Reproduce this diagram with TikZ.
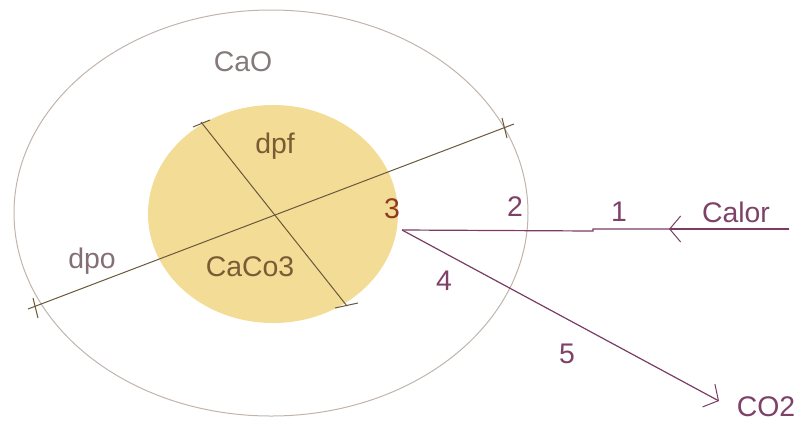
\documentclass[tikz,border=0pt]{standalone}
\usepackage{fontspec}
\setmainfont{Liberation Sans}
\usetikzlibrary{arrows.meta,calc}
\definecolor{outerc}{HTML}{C0B4AC}
\definecolor{fillc}{HTML}{F3DC96}
\definecolor{dline}{HTML}{6A583A}
\definecolor{mline}{HTML}{7A3C64}
\definecolor{txtgray}{HTML}{857A7A}
\definecolor{txtbrown}{HTML}{7A5C34}
\definecolor{txtred}{HTML}{8C3A24}
\definecolor{txtmag}{HTML}{7E4268}
\tikzset{
  lbl/.style={inner sep=0pt, font=\fontsize{28.5}{30}\selectfont},
  dimline/.style={draw=dline, line width=1bp},
  tickmark/.style={draw=dline, line width=1bp},
  flow/.style={draw=mline, line width=1.2bp},
  barb/.style={-{Straight Barb[length=11bp,width=26bp,line width=1bp]}},
}
\begin{document}
\begin{tikzpicture}[x=1bp,y=-1bp]
\useasboundingbox (0,0) rectangle (799,425);
% ellipses
\draw[outerc, line width=1bp] (271,213) ellipse [x radius=257, y radius=203];
\fill[fillc] (273,214) ellipse [x radius=125, y radius=109];
% dpo line
\coordinate (dpoA) at (28,309);
\coordinate (dpoB) at (514,124);
\coordinate (tA1) at (33,298); \coordinate (tA2) at (38,318);
\coordinate (tB1) at (502,118); \coordinate (tB2) at (507,138);
\draw[dimline] (dpoA) -- (dpoB);
\draw[tickmark] (tA1) -- (tA2);
\draw[tickmark] (tB1) -- (tB2);
% dpf line
\coordinate (dpfA) at (201,122);
\coordinate (dpfB) at (347,306);
\coordinate (tC1) at (193,127); \coordinate (tC2) at (210,120);
\coordinate (tD1) at (335,308); \coordinate (tD2) at (358,303);
\draw[dimline] (dpfA) -- (dpfB);
\draw[tickmark] (tC1) -- (tC2);
\draw[tickmark] (tD1) -- (tD2);
% flows
\coordinate (p3) at (402,230);
\coordinate (calorEnd) at (789,229);
\coordinate (calorTip) at (669,229);
\coordinate (co2Tip) at (719,401);
\draw[flow] (calorEnd) -- (593,229) -- (593,231) -- (p3);
\draw[flow, barb] (calorEnd) -- (calorTip);
\draw[flow, barb] (p3) -- (co2Tip);
% labels
\node[lbl, text=txtgray] (cao) at (243,62) {CaO};
\node[lbl, text=txtbrown] (dpf) at (275,146) {dpf};
\node[lbl, text=txtbrown] (caco3) at (250,267) {CaCo3};
\node[lbl, text=txtgray!80!txtmag] (dpo) at (92,261) {dpo};
\node[lbl, text=txtred] (n3) at (392,209) {3};
\node[lbl, text=txtmag] (n2) at (515,207) {2};
\node[lbl, text=txtmag] (n1) at (619,212) {1};
\node[lbl, text=txtmag] (calor) at (736,212) {Calor};
\node[lbl, text=txtmag] (n4) at (444,281) {4};
\node[lbl, text=txtmag] (n5) at (567,354) {5};
\node[lbl, text=txtmag] (co2) at (766,407) {CO2};
\end{tikzpicture}
\end{document}
